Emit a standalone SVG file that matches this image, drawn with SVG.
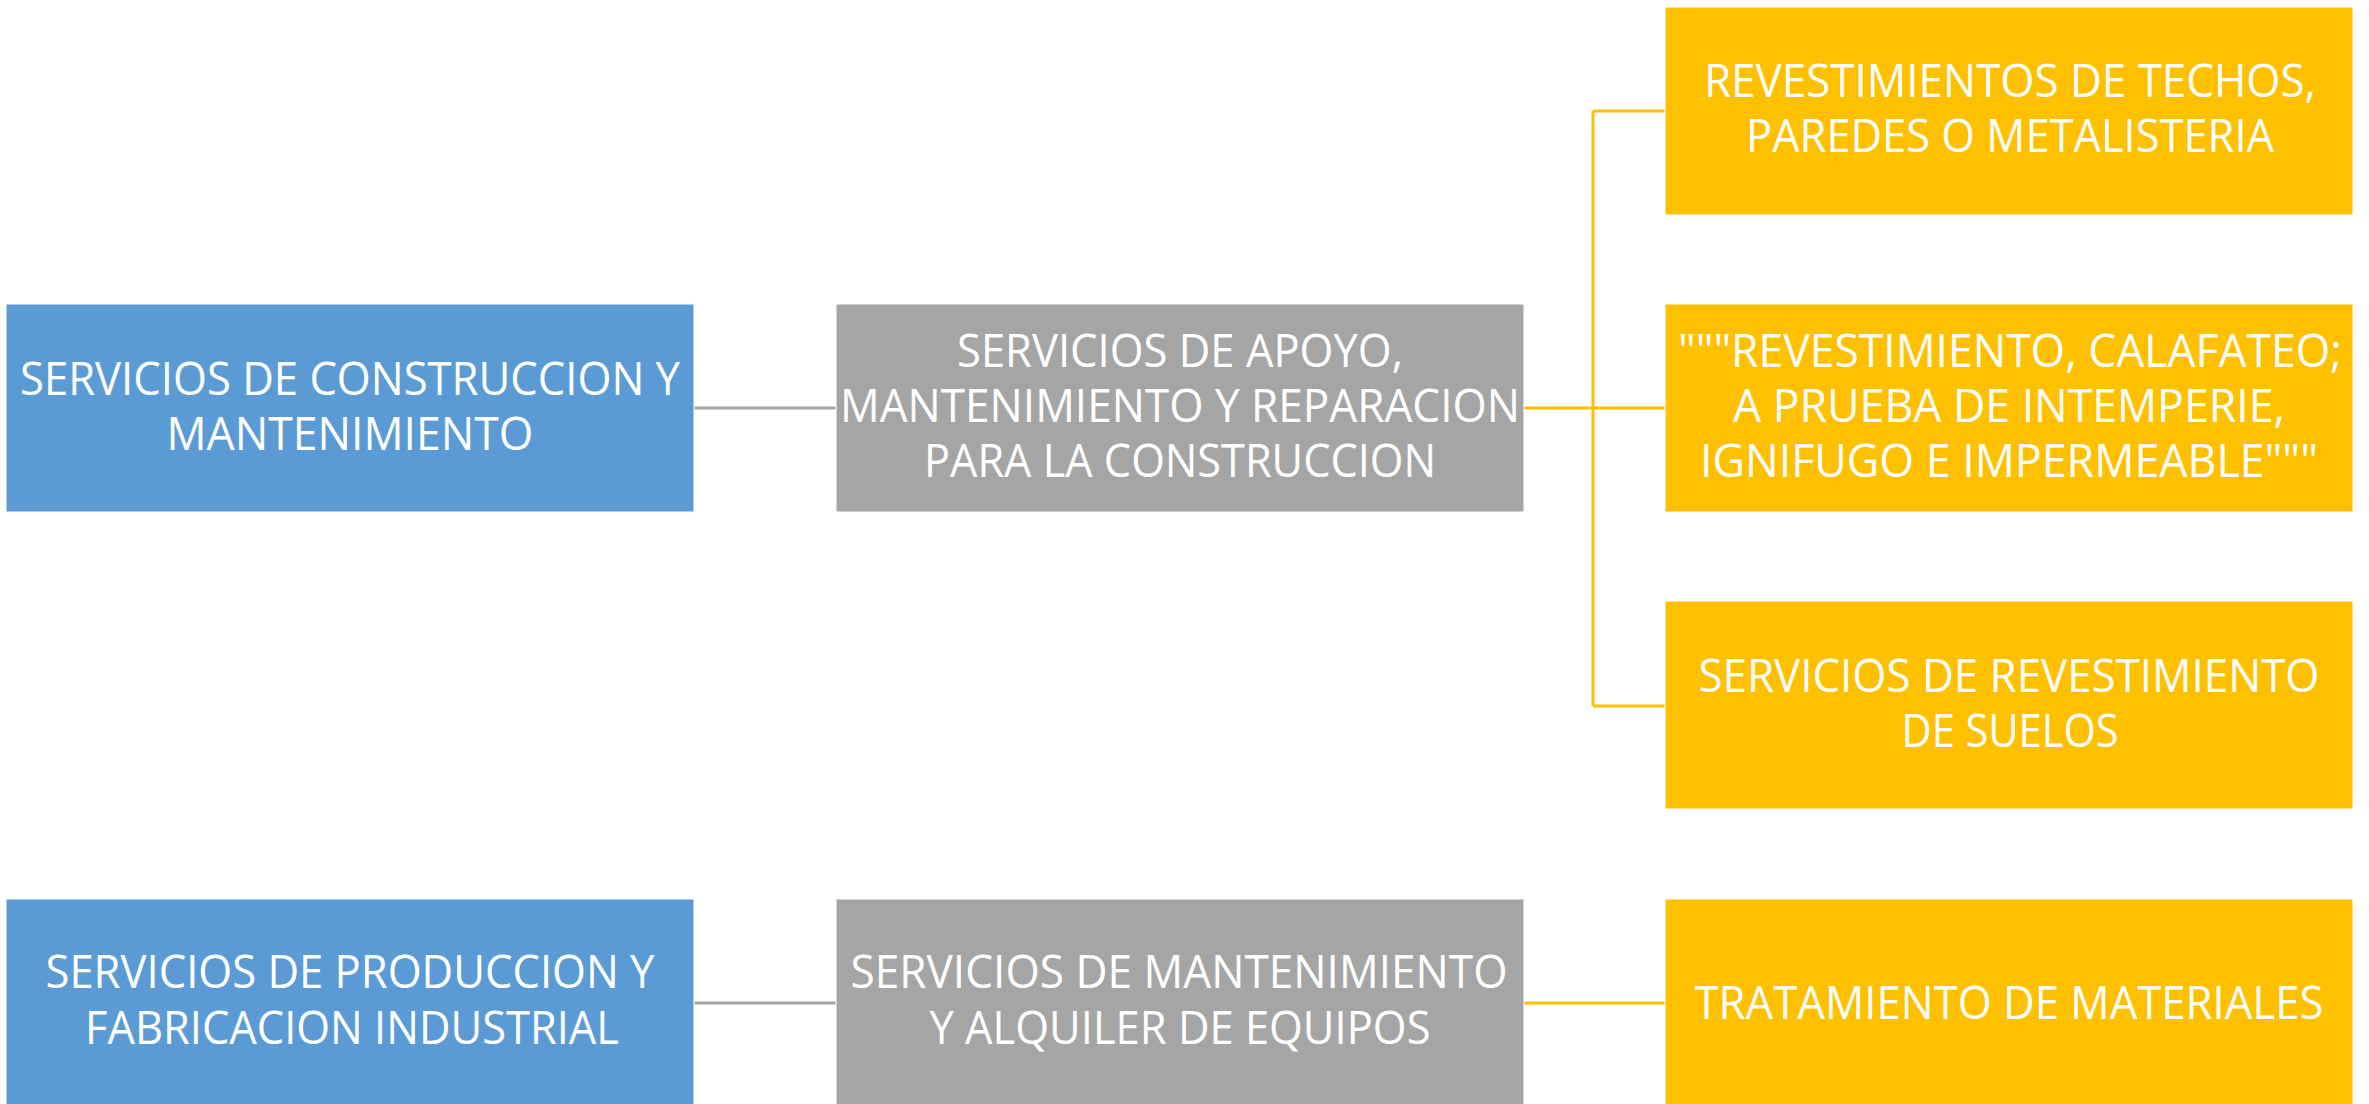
<svg xmlns="http://www.w3.org/2000/svg" width="2369" height="1104" viewBox="0 0 2369 1104">
<style>
.box{stroke:#ffffff;stroke-width:1}
.blue{fill:#5b9bd5}
.gray{fill:#a5a5a5}
.yellow{fill:#ffc000}
.lbl{font-family:"Open Sans","Noto Sans","Liberation Sans",sans-serif;font-size:45px;fill:#ffffff;text-anchor:middle}
.cg{fill:none;stroke:#a5a5a5;stroke-width:3}
.cy{fill:none;stroke:#ffc000;stroke-width:3}
</style>
<rect width="2369" height="1104" fill="#ffffff"/>
<g id="connectors">
<line class="cg" x1="694" y1="408" x2="836" y2="408"/>
<line class="cg" x1="694" y1="1003" x2="836" y2="1003"/>
<path class="cy" d="M1524 408 H1665 M1593 111 V706 M1593 111 H1665 M1593 706 H1665"/>
<line class="cy" x1="1524" y1="1003" x2="1665" y2="1003"/>
</g>
<g id="n1">
<rect class="box blue" x="6" y="304" width="688" height="208"/>
<text class="lbl" x="350" y="395" textLength="660" lengthAdjust="spacingAndGlyphs">SERVICIOS DE CONSTRUCCION Y</text>
<text class="lbl" x="350" y="450" textLength="367" lengthAdjust="spacingAndGlyphs">MANTENIMIENTO</text>
</g>
<g id="n2">
<rect class="box gray" x="836" y="304" width="688" height="208"/>
<text class="lbl" x="1180" y="367" textLength="446" lengthAdjust="spacingAndGlyphs">SERVICIOS DE APOYO,</text>
<text class="lbl" x="1180" y="422" textLength="680" lengthAdjust="spacingAndGlyphs">MANTENIMIENTO Y REPARACION</text>
<text class="lbl" x="1180" y="477" textLength="512" lengthAdjust="spacingAndGlyphs">PARA LA CONSTRUCCION</text>
</g>
<g id="n3">
<rect class="box yellow" x="1665" y="7" width="688" height="208"/>
<text class="lbl" x="2010" y="97" textLength="612" lengthAdjust="spacingAndGlyphs">REVESTIMIENTOS DE TECHOS,</text>
<text class="lbl" x="2010" y="152" textLength="528" lengthAdjust="spacingAndGlyphs">PAREDES O METALISTERIA</text>
</g>
<g id="n4">
<rect class="box yellow" x="1665" y="304" width="688" height="208"/>
<text class="lbl" x="2010" y="367" textLength="664" lengthAdjust="spacingAndGlyphs">"""REVESTIMIENTO, CALAFATEO;</text>
<text class="lbl" x="2009" y="422" textLength="552" lengthAdjust="spacingAndGlyphs">A PRUEBA DE INTEMPERIE,</text>
<text class="lbl" x="2009" y="477" textLength="618" lengthAdjust="spacingAndGlyphs">IGNIFUGO E IMPERMEABLE"""</text>
</g>
<g id="n5">
<rect class="box yellow" x="1665" y="601" width="688" height="208"/>
<text class="lbl" x="2009" y="692" textLength="621" lengthAdjust="spacingAndGlyphs">SERVICIOS DE REVESTIMIENTO</text>
<text class="lbl" x="2010" y="747" textLength="217" lengthAdjust="spacingAndGlyphs">DE SUELOS</text>
</g>
<g id="n6">
<rect class="box blue" x="6" y="899" width="688" height="208"/>
<text class="lbl" x="350" y="988" textLength="609" lengthAdjust="spacingAndGlyphs">SERVICIOS DE PRODUCCION Y</text>
<text class="lbl" x="352" y="1044" textLength="534" lengthAdjust="spacingAndGlyphs">FABRICACION INDUSTRIAL</text>
</g>
<g id="n7">
<rect class="box gray" x="836" y="899" width="688" height="208"/>
<text class="lbl" x="1179" y="988" textLength="657" lengthAdjust="spacingAndGlyphs">SERVICIOS DE MANTENIMIENTO</text>
<text class="lbl" x="1180" y="1044" textLength="501" lengthAdjust="spacingAndGlyphs">Y ALQUILER DE EQUIPOS</text>
</g>
<g id="n8">
<rect class="box yellow" x="1665" y="899" width="688" height="208"/>
<text class="lbl" x="2009" y="1019" textLength="629" lengthAdjust="spacingAndGlyphs">TRATAMIENTO DE MATERIALES</text>
</g>
</svg>
